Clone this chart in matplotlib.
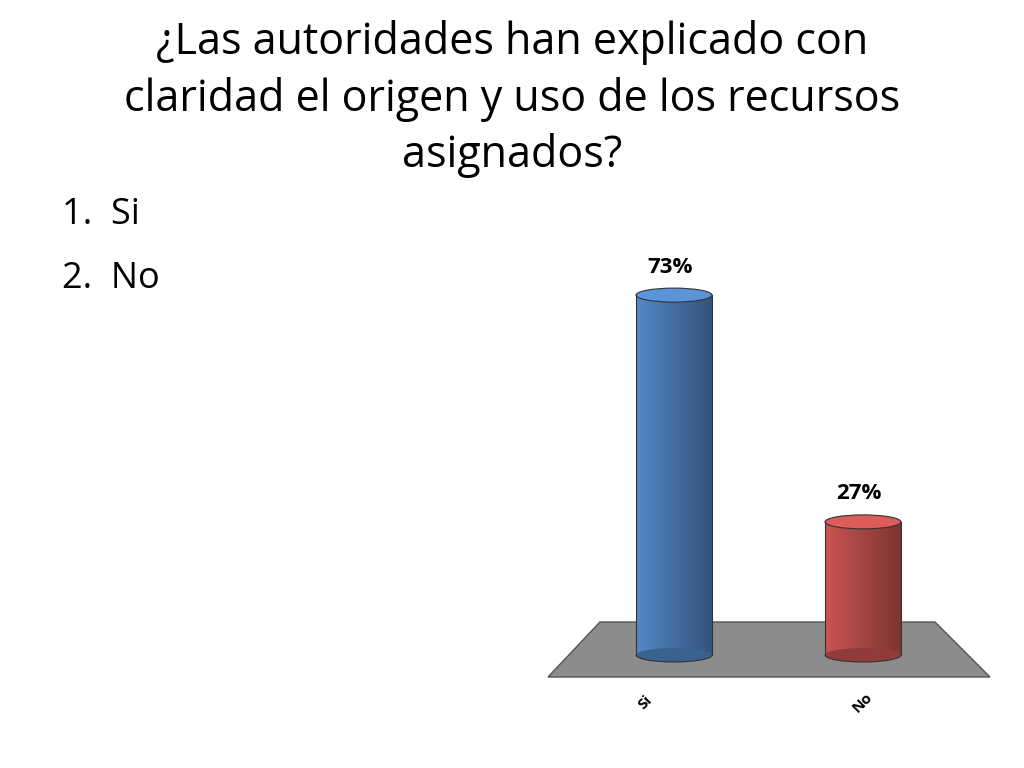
import matplotlib
matplotlib.use("Agg")
import matplotlib.pyplot as plt
import numpy as np
from matplotlib.patches import Polygon, Ellipse, Rectangle, Arc
import matplotlib.colors as mc

title = "¿Las autoridades han explicado con\nclaridad el origen y uso de los recursos\nasignados?"
items = ["Si", "No"]
categories = ["Si", "No"]
values = [73, 27]
colors = ["#4F81BD", "#C0504D"]

plt.rcParams['font.family'] = ['Open Sans', 'DejaVu Sans']
fig = plt.figure(figsize=(10.24, 7.68), dpi=100)
ax = fig.add_axes([0, 0, 1, 1])
ax.set_xlim(0, 1024); ax.set_ylim(768, 0); ax.axis('off')

ax.text(512, 99, title, ha='center', va='center', fontsize=31, linespacing=1.33)
for i, it in enumerate(items):
    ax.text(62, 215 + i * 64, f"{i+1}.  {it}", ha='left', va='center', fontsize=26)

# floor
ax.add_patch(Polygon([[600, 622], [935, 622], [990, 677], [548, 677]], closed=True,
                     facecolor='#8C8C8C', edgecolor='#555555', lw=1))

base_y = 655
scale = 4.93
centers = [674, 863]
w = 76
eh = 14
for c, v, col in zip(centers, values, colors):
    top = base_y - v * scale
    rgb = np.array(mc.to_rgb(col))
    n = 40
    for k in range(n):
        t = k / (n - 1)
        f = 1.05 - 0.4 * t
        cc = np.clip(rgb * f, 0, 1)
        x0 = c - w / 2 + k * w / n
        ax.add_patch(Rectangle((x0, top), w / n + 0.5, base_y - top, facecolor=cc, edgecolor='none'))
    ax.add_patch(Ellipse((c, base_y), w, eh, facecolor=rgb * 0.75, edgecolor='none'))
    ax.plot([c - w/2, c - w/2], [top, base_y], color='#333333', lw=0.8)
    ax.plot([c + w/2, c + w/2], [top, base_y], color='#333333', lw=0.8)
    ax.add_patch(Ellipse((c, top), w, eh, facecolor=np.clip(rgb * 1.15, 0, 1), edgecolor='#333333', lw=0.8))
    ax.add_patch(Arc((c, base_y), w, eh, theta1=0, theta2=180, color='#333333', lw=0.8))
    ax.text(c - 4, top - 28, f"{v}%", ha='center', va='center', fontsize=16, fontweight='bold')

for c, lab in zip([645, 862], categories):
    ax.text(c, 702, lab, ha='center', va='center', rotation=45, fontsize=11, fontweight='bold')

fig.savefig("out.png", dpi=100)
